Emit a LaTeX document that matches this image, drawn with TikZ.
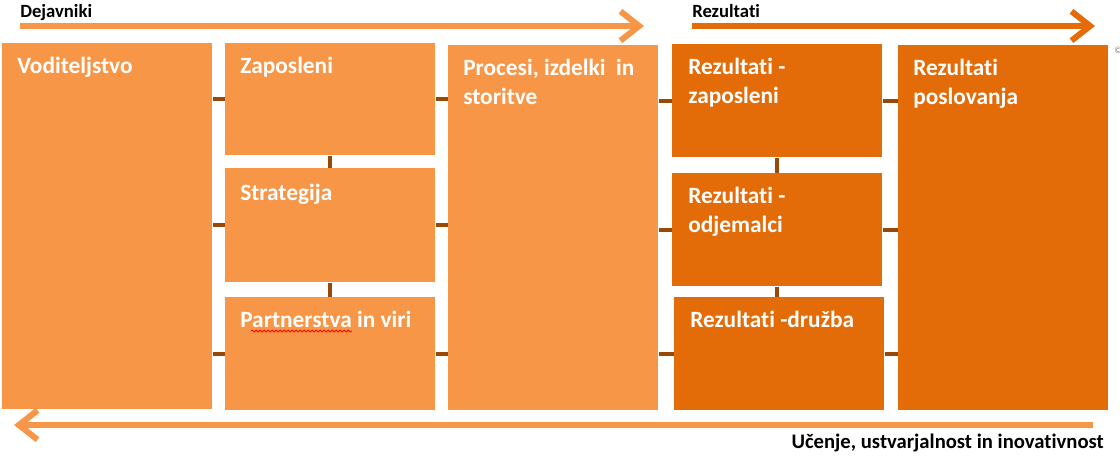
\documentclass[tikz,border=0pt]{standalone}
\usepackage{fontspec}
\setmainfont{Carlito}[Ligatures={NoCommon}]
\usetikzlibrary{arrows.meta,decorations.pathmorphing}
\definecolor{lightorange}{HTML}{F79646}
\definecolor{darkorange}{HTML}{E36C09}
\definecolor{linkbrown}{HTML}{984807}
\begin{document}
\begin{tikzpicture}[x=0.75pt, y=-0.75pt,
    box/.style={fill=#1, anchor=north west, minimum width=157.5pt, inner sep=0pt},
    boxtext/.style={anchor=north west, text=white, inner sep=0pt, align=left,
        font=\fontsize{17.5}{21.75}\selectfont\bfseries},
    link/.style={draw=linkbrown, line width=3pt},
    flow/.style={line width=4.5pt, -{Straight Barb[length=14pt, width=22pt]}},
    heading/.style={inner sep=0pt, font=\fontsize{14}{17}\selectfont\bfseries}]
    \useasboundingbox (0,0) rectangle (1120,461);

    % Define boxes of the model
    \node[box=lightorange, minimum height=274.5pt] (vod) at (2,43) {};
    \node[box=lightorange, minimum height=84pt] (zap) at (225,43) {};
    \node[box=lightorange, minimum height=85.5pt] (str) at (225,168) {};
    \node[box=lightorange, minimum height=84.75pt] (par) at (225,297) {};
    \node[box=lightorange, minimum height=273.75pt] (pro) at (448,45) {};
    \node[box=darkorange, minimum height=84.75pt] (rzap) at (672,44) {};
    \node[box=darkorange, minimum height=84.75pt] (rodj) at (672,173) {};
    \node[box=darkorange, minimum height=84.75pt] (rdru) at (674,297) {};
    \node[box=darkorange, minimum height=273.75pt] (rpos) at (898,45) {};

    % Box texts
    \node[boxtext] (vodtext) at ([shift={(15,14)}]vod.north west) {Voditeljstvo};
    \node[boxtext] (zaptext) at ([shift={(15,14)}]zap.north west) {Zaposleni};
    \node[boxtext] (strtext) at ([shift={(15,16)}]str.north west) {Strategija};
    \node[boxtext] (partext) at ([shift={(15,14)}]par.north west) {Partnerstva in viri};
    \node[boxtext] (protext) at ([shift={(15,14)}]pro.north west) {Procesi, izdelki\ \ in\\storitve};
    \node[boxtext] (rzaptext) at ([shift={(16,14)}]rzap.north west) {Rezultati -\\zaposleni};
    \node[boxtext] (rodjtext) at ([shift={(16,14)}]rodj.north west) {Rezultati -\\odjemalci};
    \node[boxtext] (rdrutext) at ([shift={(16,14)}]rdru.north west) {Rezultati -družba};
    \node[boxtext] (rpostext) at ([shift={(15,14)}]rpos.north west) {Rezultati\\poslovanja};
    \draw[red, line width=0.6pt, decorate, decoration={snake, amplitude=0.7pt, segment length=3pt}]
        (251,331) -- (352,331);

    % Draw links
    \draw[link] (vod.east |- zap.west) -- (zap.west);
    \draw[link] (vod.east |- str.west) -- (str.west);
    \draw[link] (vod.east |- par.west) -- (par.west);
    \draw[link] (zap.east) -- (pro.west |- zap.east);
    \draw[link] (str.east) -- (pro.west |- str.east);
    \draw[link] (par.east) -- (pro.west |- par.east);
    \draw[link] (zap.south) -- (str.north);
    \draw[link] (str.south) -- (par.north);
    \draw[link] (pro.east |- rzap.west) -- (rzap.west);
    \draw[link] (pro.east |- rodj.west) -- (rodj.west);
    \draw[link] (pro.east |- rdru.west) -- (rdru.west);
    \draw[link] (rzap.east) -- (rpos.west |- rzap.east);
    \draw[link] (rodj.east) -- (rpos.west |- rodj.east);
    \draw[link] (rdru.east) -- (rpos.west |- rdru.east);
    \draw[link] (rzap.south) -- (rodj.north);
    \draw[link] (rodj.south) -- (rodj.south |- rdru.north);

    % Flow arrows
    \coordinate (dstart) at (20,26);
    \coordinate (dend) at (644,26);
    \coordinate (rstart) at (692,26);
    \coordinate (rend) at (1095,26);
    \coordinate (ustart) at (1093,425);
    \coordinate (uend) at (14,425);
    \draw[flow, lightorange] (dstart) -- (dend);
    \draw[flow, darkorange] (rstart) -- (rend);
    \draw[flow, lightorange] (ustart) -- (uend);
    \node[heading, anchor=base west] (dlabel) at (20,17) {Dejavniki};
    \node[heading, anchor=base west] (rlabel) at (692,17) {Rezultati};
    \node[heading, anchor=base east, font=\fontsize{15.5}{18}\selectfont\bfseries] (ulabel) at (1104,448) {Učenje, ustvarjalnost in inovativnost};
    \node[text=gray, inner sep=0pt, anchor=west, font=\fontsize{7}{8}\selectfont] (mark) at (1114,50) {©};
\end{tikzpicture}
\end{document}
